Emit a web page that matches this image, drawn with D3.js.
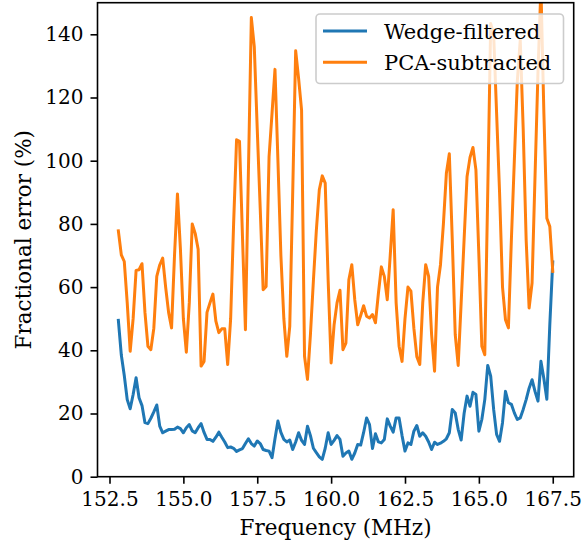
<!DOCTYPE html>
<html>
<head>
<meta charset="utf-8">
<script src="https://cdn.jsdelivr.net/npm/d3@7"></script>
<style>
body { margin: 0; background: #fff; }
svg { display: block; font-family: "DejaVu Serif", serif; }
</style>
</head>
<body>
<svg width="582" height="544"></svg>
<script>
// channel frequencies (MHz)
var freq = [
  152.8, 152.9, 153.0, 153.1, 153.2, 153.3, 153.4, 153.5, 153.6, 153.7,
  153.8, 153.9, 154.0, 154.1, 154.2, 154.3, 154.4, 154.5, 154.6, 154.7,
  154.8, 154.9, 155.0, 155.1, 155.2, 155.3, 155.4, 155.5, 155.6, 155.7,
  155.8, 155.9, 156.0, 156.1, 156.2, 156.3, 156.4, 156.5, 156.6, 156.7,
  156.8, 156.9, 157.0, 157.1, 157.2, 157.3, 157.4, 157.5, 157.6, 157.7,
  157.8, 157.9, 158.0, 158.1, 158.2, 158.3, 158.4, 158.5, 158.6, 158.7,
  158.8, 158.9, 159.0, 159.1, 159.2, 159.3, 159.4, 159.5, 159.6, 159.7,
  159.8, 159.9, 160.0, 160.1, 160.2, 160.3, 160.4, 160.5, 160.6, 160.7,
  160.8, 160.9, 161.0, 161.1, 161.2, 161.3, 161.4, 161.5, 161.6, 161.7,
  161.8, 161.9, 162.0, 162.1, 162.2, 162.3, 162.4, 162.5, 162.6, 162.7,
  162.8, 162.9, 163.0, 163.1, 163.2, 163.3, 163.4, 163.5, 163.6, 163.7,
  163.8, 163.9, 164.0, 164.1, 164.2, 164.3, 164.4, 164.5, 164.6, 164.7,
  164.8, 164.9, 165.0, 165.1, 165.2, 165.3, 165.4, 165.5, 165.6, 165.7,
  165.8, 165.9, 166.0, 166.1, 166.2, 166.3, 166.4, 166.5, 166.6, 166.7,
  166.8, 166.9, 167.0, 167.1, 167.2, 167.3, 167.4, 167.5
];

// fractional error (%) - wedge filtered
var wedge = [
  49.5, 38.5, 32, 24.4, 21.5, 26, 31.3, 25, 22.5, 17.1,
  16.8, 18.5, 20.5, 22.7, 16, 13.9, 14.4, 14.9, 14.9, 15,
  15.7, 15.2, 13.9, 15.5, 16.5, 14.5, 13.9, 15.5, 16.8, 14,
  11.8, 11.8, 11.2, 12.5, 14.1, 12.5, 11, 9.2, 9.4, 9,
  8, 8.5, 8.9, 10.5, 12, 10.5, 9.7, 11.3, 10.5, 8.6,
  8.3, 8.1, 6, 12, 17.6, 14, 11.8, 11, 11.6, 8.6,
  11, 13.9, 11.5, 10.2, 16, 13, 9, 7.6, 6.3, 5.5,
  9, 13.9, 10.2, 11.5, 13, 11.8, 6.5, 7.5, 8.1, 5.5,
  7.5, 10.2, 10, 14, 18.6, 16.5, 8.9, 13.6, 11, 10.7,
  11.8, 18.3, 16, 14.1, 18.6, 18.6, 13, 8.1, 10.7, 10.2,
  14.4, 16.2, 12.8, 13.9, 12.8, 11, 8.6, 10.9, 10.2, 10.6,
  11.2, 12, 13.9, 21.3, 20.2, 15, 11.6, 20, 25.5, 22.3,
  26.7, 26, 14.4, 18.1, 24.4, 35.2, 31.8, 21.3, 13.4, 11.2,
  17.1, 27, 23.4, 22.9, 20.2, 18.1, 18.6, 21.3, 24.4, 28,
  30.7, 27, 23.9, 36.5, 31, 24.5, 48, 68
];

// fractional error (%) - PCA subtracted
var pca = [
  77.8, 70.2, 68.1, 55, 39.7, 50, 65.3, 65.5, 67.4, 52,
  41.3, 40.2, 47, 63.4, 67, 69.2, 60, 52, 47.1, 70,
  89.5, 72, 50, 39.4, 55, 80, 77, 72, 35, 36.5,
  52, 55, 57.8, 49.2, 45.6, 46.8, 46.8, 35.5, 50, 80,
  106.6, 106.1, 76, 46.5, 96, 145.3, 136, 110, 85, 59.2,
  60.2, 101.3, 115, 128.9, 100, 70, 50, 38.1, 47.6, 90,
  134.8, 126, 116, 38.1, 30.8, 45, 62, 78, 90.8, 95.2,
  92.9, 62, 36, 48, 55, 59, 40.2, 42.3, 62.3, 67.1,
  56, 48.1, 51, 54.1, 50.8, 50.2, 51.3, 48.7, 58, 66.4,
  63.4, 56, 70, 84.5, 55, 41.3, 36.5, 50, 60, 58.7,
  47, 38, 35.5, 55, 67.1, 63.4, 45, 33.4, 60, 67,
  80, 96, 102.2, 75, 45, 35.2, 55, 75, 95, 101,
  104.2, 97.1, 70, 41.3, 38.6, 90, 143.4, 140, 115, 90,
  60, 49.7, 47.1, 75, 100, 125, 138.2, 110, 75, 53.4,
  61.3, 95, 128, 155, 115, 81.8, 79.2, 65
];

var xTicks = [152.5, 155.0, 157.5, 160.0, 162.5, 165.0, 167.5];
var yTicks = [0, 20, 40, 60, 80, 100, 120, 140];
var names = ["Wedge-filtered", "PCA-subtracted"];
var colors = ["#1f77b4", "#ff7f0e"];

var svg = d3.select("svg");

// plot box
var boxLeft = 97.5, boxRight = 573.7, boxTop = 2.7, boxBottom = 476.7;

var x = d3.scaleLinear().domain([152.094, 168.209]).range([boxLeft, boxRight]);
var y = d3.scaleLinear().domain([0, 150]).range([boxBottom, boxTop]);

svg.append("clipPath").attr("id", "plotclip")
    .append("rect")
    .attr("x", boxLeft).attr("y", boxTop)
    .attr("width", boxRight - boxLeft).attr("height", boxBottom - boxTop);

var line = d3.line()
    .x(function (d, i) { return x(freq[i]); })
    .y(function (d) { return y(d); });

var plot = svg.append("g").attr("clip-path", "url(#plotclip)");

[wedge, pca].forEach(function (s, k) {
    plot.append("path")
        .attr("d", line(s))
        .attr("fill", "none")
        .attr("stroke", colors[k])
        .attr("stroke-width", 3)
        .attr("stroke-linejoin", "round")
        .attr("stroke-linecap", "square");
});

// axes
var xaxis = svg.append("g")
    .attr("transform", "translate(0," + boxBottom + ")")
    .call(d3.axisBottom(x).tickValues(xTicks).tickFormat(d3.format(".1f")).tickSize(7).tickPadding(8));

var yaxis = svg.append("g")
    .attr("transform", "translate(" + boxLeft + ",0)")
    .call(d3.axisLeft(y).tickValues(yTicks).tickFormat(d3.format("d")).tickSize(7).tickPadding(7));

[xaxis, yaxis].forEach(function (a) {
    a.select(".domain").remove();
    a.selectAll("line").attr("stroke", "#000").attr("stroke-width", 1.6);
    a.selectAll("text").attr("fill", "#000")
        .style("font-family", "DejaVu Serif").style("font-size", "20px");
});

// frame
svg.append("rect")
    .attr("x", boxLeft).attr("y", boxTop)
    .attr("width", boxRight - boxLeft).attr("height", boxBottom - boxTop)
    .attr("fill", "none").attr("stroke", "#000").attr("stroke-width", 1.6);

svg.append("text")
    .attr("x", (boxLeft + boxRight) / 2)
    .attr("y", 535)
    .attr("text-anchor", "middle")
    .attr("font-size", "21.5px")
    .text("Frequency (MHz)");

svg.append("text")
    .attr("transform", "translate(31," + (boxTop + boxBottom) / 2 + ") rotate(-90)")
    .attr("text-anchor", "middle")
    .attr("font-size", "21.5px")
    .text("Fractional error (%)");

// legend
var legend = svg.append("g");
legend.append("rect")
    .attr("x", 316).attr("y", 14)
    .attr("width", 247.5).attr("height", 69.5)
    .attr("rx", 4)
    .attr("fill", "#fff").attr("fill-opacity", 0.8)
    .attr("stroke", "#cccccc").attr("stroke-width", 1.6);

names.forEach(function (n, k) {
    var ly = 31 + k * 31.3;
    legend.append("line")
        .attr("x1", 324.5).attr("x2", 365.5)
        .attr("y1", ly).attr("y2", ly)
        .attr("stroke", colors[k]).attr("stroke-width", 3)
        .attr("stroke-linecap", "square");
    legend.append("text")
        .attr("x", 384).attr("y", ly + 7.5)
        .attr("font-size", "21px")
        .text(n);
});
</script>
</body>
</html>
